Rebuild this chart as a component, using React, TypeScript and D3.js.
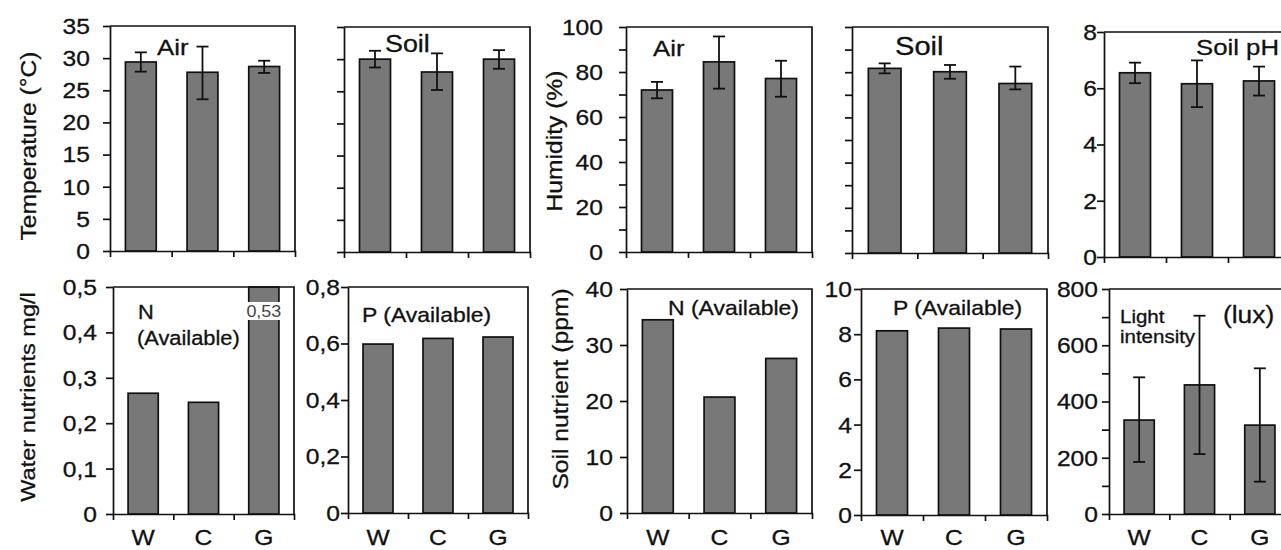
import React, { useRef, useEffect } from "react";
import * as d3 from "d3";

const groups = ["W", "C", "G"];

// temperature (°C): mean, lower and upper end of the error bar
const airTemp = [29.4, 27.8, 28.7];
const airTempLow = [27.9, 23.6, 27.7];
const airTempHigh = [30.9, 31.8, 29.6];
const soilTemp = [30.0, 28.0, 30.0];
const soilTempLow = [28.7, 25.2, 28.5];
const soilTempHigh = [31.3, 30.9, 31.4];

// humidity (%)
const airHum = [72.0, 84.5, 77.1];
const airHumLow = [68.3, 72.6, 69.0];
const airHumHigh = [75.6, 95.8, 85.0];
const soilHum = [81.7, 80.2, 75.0];
const soilHumLow = [79.5, 77.1, 72.4];
const soilHumHigh = [83.9, 83.2, 82.5];

// soil pH
const soilPH = [6.55, 6.16, 6.26];
const soilPHLow = [6.18, 5.33, 5.74];
const soilPHHigh = [6.91, 6.99, 6.77];

// water nutrients (mg/l)
const waterN = [0.266, 0.246, 0.53];
const waterP = [0.598, 0.618, 0.623];

// soil nutrients (ppm)
const soilN = [34.5, 20.7, 27.6];
const soilP = [8.15, 8.27, 8.23];

// light intensity (lux)
const light = [334, 459, 316];
const lightLow = [185, 213, 115];
const lightHigh = [486, 705, 518];

// y ticks and their labels
const tempTicks = [0, 5, 10, 15, 20, 25, 30, 35];
const tempLabels = ["0", "5", "10", "15", "20", "25", "30", "35"];
const humTicks = [0, 10, 20, 30, 40, 50, 60, 70, 80, 90, 100];
const humLabels = ["0", "", "20", "", "40", "", "60", "", "80", "", "100"];
const phTicks = [0, 2, 4, 6, 8];
const phLabels = ["0", "2", "4", "6", "8"];
const waterNTicks = [0, 0.1, 0.2, 0.3, 0.4, 0.5];
const waterNLabels = ["0", "0,1", "0,2", "0,3", "0,4", "0,5"];
const waterPTicks = [0, 0.2, 0.4, 0.6, 0.8];
const waterPLabels = ["0", "0,2", "0,4", "0,6", "0,8"];
const soilNTicks = [0, 10, 20, 30, 40];
const soilNLabels = ["0", "10", "20", "30", "40"];
const soilPTicks = [0, 2, 4, 6, 8, 10];
const soilPLabels = ["0", "2", "4", "6", "8", "10"];
const lightTicks = [0, 100, 200, 300, 400, 500, 600, 700, 800];
const lightLabels = ["0", "", "200", "", "400", "", "600", "", "800"];

const FONT = "'Liberation Sans', Arial, sans-serif";
const SX = 1.12; // glyphs in the figure are a bit wider than Arial
const INK = "#111";
const TICK_FONT = 22;

type Note = { text: string; x: number; y: number; size: number };
type Panel = {
  x0: number; x1: number; y0: number; y1: number;
  values: number[]; low?: number[]; high?: number[];
  ticks: number[]; labels?: string[]; pad?: number;
  title?: string; titleX?: number; titleY?: number; titleSize?: number;
  notes: Note[]; catLabels?: boolean;
  tag?: { text: string; index: number; y: number };
};

const panels: Panel[] = [
  { x0: 110, x1: 295, y0: 26, y1: 251, values: airTemp, low: airTempLow, high: airTempHigh,
    ticks: tempTicks, labels: tempLabels, pad: 20, title: "Temperature (°C)", titleX: 36, titleY: 146,
    notes: [{ text: "Air", x: 157, y: 55, size: 23 }] },
  { x0: 344, x1: 530, y0: 27, y1: 252, values: soilTemp, low: soilTempLow, high: soilTempHigh,
    ticks: tempTicks, notes: [{ text: "Soil", x: 385, y: 52, size: 24 }] },
  { x0: 626, x1: 812, y0: 27, y1: 252, values: airHum, low: airHumLow, high: airHumHigh,
    ticks: humTicks, labels: humLabels, pad: 23, title: "Humidity (%)", titleX: 562, titleY: 141,
    notes: [{ text: "Air", x: 653, y: 56, size: 23 }] },
  { x0: 852, x1: 1048, y0: 27, y1: 253, values: soilHum, low: soilHumLow, high: soilHumHigh,
    ticks: humTicks, notes: [{ text: "Soil", x: 895, y: 55, size: 26 }] },
  { x0: 1104, x1: 1290, y0: 32, y1: 257, values: soilPH, low: soilPHLow, high: soilPHHigh,
    ticks: phTicks, labels: phLabels, pad: 7, notes: [{ text: "Soil pH", x: 1196, y: 55, size: 23 }] },
  { x0: 113, x1: 294, y0: 287, y1: 514, values: waterN, ticks: waterNTicks, labels: waterNLabels, pad: 16,
    title: "Water nutrients mg/l", titleX: 35, titleY: 397, titleSize: 21, catLabels: true,
    notes: [{ text: "N", x: 138, y: 319, size: 19.5 }, { text: "(Available)", x: 137, y: 345, size: 19.5 }],
    tag: { text: "0,53", index: 2, y: 311 } },
  { x0: 348, x1: 528, y0: 287, y1: 513, values: waterP, ticks: waterPTicks, labels: waterPLabels, pad: 8,
    catLabels: true, notes: [{ text: "P (Available)", x: 362, y: 322, size: 20.5 }] },
  { x0: 627, x1: 812, y0: 289, y1: 513, values: soilN, ticks: soilNTicks, labels: soilNLabels, pad: 14,
    title: "Soil nutrient (ppm)", titleX: 568, titleY: 389, catLabels: true,
    notes: [{ text: "N (Available)", x: 668, y: 315, size: 20.5 }] },
  { x0: 861, x1: 1047, y0: 289, y1: 515, values: soilP, ticks: soilPTicks, labels: soilPLabels, pad: 9,
    catLabels: true, notes: [{ text: "P (Available)", x: 893, y: 315, size: 20.5 }] },
  { x0: 1109, x1: 1290, y0: 289, y1: 514, values: light, low: lightLow, high: lightHigh,
    ticks: lightTicks, labels: lightLabels, pad: 11, catLabels: true,
    notes: [
      { text: "Light", x: 1120, y: 323, size: 18.3 },
      { text: "intensity", x: 1120, y: 343, size: 18.3 },
      { text: "(lux)", x: 1223, y: 323, size: 23.5 },
    ] },
];

export default function App() {
  const ref = useRef<SVGSVGElement>(null);

  useEffect(() => {
    const svg = d3.select(ref.current);
    svg.selectAll("*").remove();
    svg.append("rect").attr("width", 1281).attr("height", 550).attr("fill", "#fff");

    // text is a touch heavier in the figure, so give it a hairline stroke
    const put = (g: any, text: string, x: number, y: number, size: number, anchor = "start", rot = 0) =>
      g.append("text")
        .attr("transform", `translate(${x},${y})${rot ? ` rotate(${rot})` : ""} scale(${SX},1)`)
        .attr("text-anchor", anchor)
        .attr("font-family", FONT)
        .attr("font-size", size)
        .attr("fill", INK)
        .attr("stroke", INK)
        .attr("stroke-width", 0.3)
        .text(text);

    panels.forEach((p) => {
      const g = svg.append("g");
      const max = p.ticks[p.ticks.length - 1];
      const y = d3.scaleLinear().domain([0, max]).range([p.y1, p.y0]).clamp(true);
      const x = d3.scaleBand().domain(groups).range([p.x0, p.x1]).paddingInner(0.5).paddingOuter(0.25);
      const xs = d3.scaleLinear().domain([0, groups.length]).range([p.x0, p.x1]);
      const bw = x.bandwidth();

      // bars
      g.selectAll(".bar")
        .data(p.values)
        .enter()
        .append("rect")
        .attr("x", (_, i) => x(groups[i])!)
        .attr("width", bw)
        .attr("y", (d) => y(d))
        .attr("height", (d) => y(0) - y(d))
        .attr("fill", "#787878")
        .attr("stroke", INK)
        .attr("stroke-width", 1.7);

      // value tag on the clipped bar
      if (p.tag) {
        const cx = x(groups[p.tag.index])! + bw / 2;
        g.append("rect")
          .attr("x", cx - bw / 2 - 3).attr("width", bw + 6)
          .attr("y", p.tag.y - 9).attr("height", 18)
          .attr("fill", "#fff");
        put(g, p.tag.text, cx, p.tag.y + 6, 16, "middle").attr("fill", "#444").attr("stroke", "none");
      }

      // error bars
      if (p.low && p.high) {
        const lo = p.low, hi = p.high;
        groups.forEach((c, i) => {
          const cx = x(c)! + bw / 2;
          const eb = g.append("g").attr("stroke", INK).attr("stroke-width", 1.8);
          eb.append("line").attr("x1", cx).attr("x2", cx).attr("y1", y(lo[i])).attr("y2", y(hi[i]));
          [lo[i], hi[i]].forEach((v) =>
            eb.append("line").attr("x1", cx - 6).attr("x2", cx + 6).attr("y1", y(v)).attr("y2", y(v))
          );
        });
      }

      // frame (top and right)
      g.append("path")
        .attr("d", `M${p.x0},${p.y0}H${p.x1}V${p.y1}`)
        .attr("fill", "none")
        .attr("stroke", INK)
        .attr("stroke-width", 1.7);

      // x axis: ticks at the group boundaries
      const gx = g.append("g")
        .attr("transform", `translate(0,${p.y1})`)
        .call(d3.axisBottom(xs).tickValues([1, 2]).tickSize(6).tickSizeOuter(6).tickFormat(() => ""));
      gx.selectAll("path, line").attr("stroke", INK).attr("stroke-width", 1.7);

      // y axis
      const gy = g.append("g")
        .attr("transform", `translate(${p.x0},0)`)
        .call(d3.axisLeft(y).tickValues(p.ticks).tickSize(7).tickSizeOuter(0).tickFormat(() => ""));
      gy.selectAll("path, line").attr("stroke", INK).attr("stroke-width", 1.7);
      if (p.labels) {
        const labels = p.labels;
        p.ticks.forEach((t, i) => {
          if (labels[i]) put(g, labels[i], p.x0 - (p.pad ?? 10), y(t) + TICK_FONT * 0.36, TICK_FONT, "end");
        });
      }

      if (p.catLabels) {
        groups.forEach((c) => put(g, c, x(c)! + bw / 2, 545, 22, "middle"));
      }

      if (p.title) put(g, p.title, p.titleX!, p.titleY!, p.titleSize ?? 22, "middle", -90);

      p.notes.forEach((n) => put(g, n.text, n.x, n.y, n.size));
    });
  }, []);

  return (
    <svg
      ref={ref}
      width={1281}
      height={550}
      style={{ position: "absolute", left: 0, top: 0, display: "block" }}
    />
  );
}
